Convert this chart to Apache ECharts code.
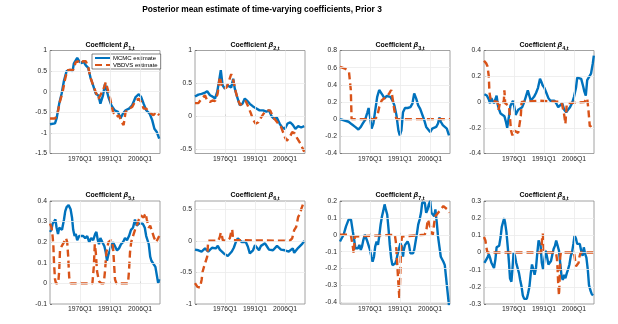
<!DOCTYPE html>
<html>
<head>
<meta charset="utf-8">
<script src="https://cdn.jsdelivr.net/npm/echarts@6/dist/echarts.min.js"></script>
<style>
  html, body { margin: 0; padding: 0; background: #fff; }
  #chart { width: 618px; height: 324px; }
</style>
</head>
<body>
<div id="chart"></div>
<script>
// x ticks (years, labelled as first quarter)
const xTicks = [1976, 1991, 2006];

// beta 1
const b1Mcmc = [[1961.0,-0.79],[1963.5,-0.77],[1964.3,-0.65],[1965.6,-0.29],[1966.8,-0.05],[1968.0,0.27],[1969.3,0.5],[1971.0,0.53],[1972.3,0.5],[1972.9,0.68],[1974.6,0.82],[1975.6,0.74],[1976.8,0.69],[1977.6,0.74],[1978.9,0.64],[1980.1,0.58],[1981.2,0.35],[1982.6,0.15],[1983.9,-0.05],[1985.2,-0.09],[1986.2,-0.29],[1987.5,-0.09],[1988.5,0.19],[1989.5,0.15],[1990.2,-0.13],[1991.7,-0.33],[1993.3,-0.45],[1995.0,-0.49],[1996.2,-0.65],[1997.5,-0.53],[1998.8,-0.45],[2000.5,-0.41],[2002.1,-0.33],[2003.8,-0.13],[2005.4,-0.06],[2006.6,-0.13],[2007.8,-0.29],[2009.1,-0.45],[2010.8,-0.53],[2012.1,-0.69],[2013.2,-0.9],[2014.4,-0.98],[2015.6,-1.14]];
const b1Vb = [[1961.0,-0.65],[1963.5,-0.65],[1964.6,-0.57],[1965.9,-0.25],[1967.3,-0.01],[1968.4,0.27],[1969.6,0.52],[1971.3,0.53],[1972.6,0.53],[1973.9,0.72],[1975.1,0.74],[1976.3,0.68],[1977.6,0.74],[1978.9,0.74],[1980.1,0.6],[1981.2,0.35],[1982.6,0.15],[1983.9,-0.01],[1985.2,-0.17],[1986.2,-0.21],[1987.5,0.03],[1988.9,0.23],[1989.9,0.26],[1990.9,-0.13],[1992.5,-0.49],[1994.2,-0.61],[1995.5,-0.57],[1996.7,-0.73],[1997.8,-0.81],[1998.8,-0.49],[2000.5,-0.41],[2002.1,-0.37],[2003.8,-0.21],[2005.4,-0.17],[2006.6,-0.25],[2007.8,-0.41],[2009.1,-0.41],[2010.4,-0.49],[2011.6,-0.53],[2012.7,-0.57],[2014.1,-0.49],[2015.6,-0.57]];
const b1Ticks = [-1.5, -1, -0.5, 0, 0.5, 1];

// beta 2
const b2Mcmc = [[1961.0,0.3],[1962.7,0.33],[1964.3,0.34],[1966.0,0.36],[1967.1,0.38],[1968.5,0.32],[1969.8,0.3],[1971.0,0.27],[1972.1,0.37],[1973.1,0.55],[1973.9,0.7],[1974.8,0.47],[1975.9,0.42],[1977.1,0.47],[1978.1,0.49],[1979.1,0.44],[1980.1,0.57],[1980.9,0.42],[1982.1,0.29],[1983.4,0.17],[1984.7,0.19],[1985.9,0.27],[1987.0,0.24],[1988.4,0.19],[1990.0,0.15],[1991.7,0.12],[1993.3,0.09],[1995.0,0.09],[1996.7,0.07],[1998.0,0.09],[1999.3,0.0],[2000.6,-0.04],[2001.9,-0.02],[2003.3,-0.11],[2004.6,-0.17],[2005.9,-0.19],[2007.3,-0.11],[2008.6,-0.09],[2009.9,-0.13],[2011.2,-0.19],[2012.6,-0.15],[2014.1,-0.17],[2015.6,-0.15]];
const b2Vb = [[1961.0,0.2],[1962.7,0.2],[1964.3,0.27],[1966.0,0.32],[1967.1,0.24],[1968.5,0.22],[1969.8,0.24],[1971.0,0.23],[1972.3,0.34],[1973.4,0.6],[1974.3,0.47],[1975.4,0.42],[1976.8,0.44],[1978.1,0.55],[1979.1,0.64],[1980.1,0.55],[1981.4,0.37],[1982.6,0.24],[1983.7,0.17],[1985.0,0.22],[1986.4,0.23],[1987.7,0.14],[1989.0,0.04],[1990.0,-0.05],[1991.3,-0.11],[1992.7,-0.09],[1994.0,-0.02],[1995.3,0.04],[1996.7,0.09],[1997.7,0.1],[1998.6,0.09],[2000.0,-0.01],[2001.3,-0.06],[2002.6,-0.11],[2004.0,-0.16],[2005.0,-0.24],[2006.0,-0.32],[2006.9,-0.37],[2008.3,-0.32],[2009.6,-0.24],[2010.9,-0.26],[2012.2,-0.34],[2013.6,-0.41],[2015.6,-0.54]];
const b2Ticks = [-0.5, 0, 0.5, 1];

// beta 3
const b3Mcmc = [[1961.0,0.0],[1965.3,-0.03],[1966.9,-0.06],[1968.6,-0.09],[1970.2,-0.12],[1971.4,-0.09],[1972.4,-0.05],[1973.5,-0.01],[1974.7,0.08],[1975.3,0.13],[1976.0,0.03],[1976.8,-0.11],[1977.7,-0.05],[1978.6,0.1],[1979.6,0.26],[1980.6,0.34],[1981.3,0.34],[1982.3,0.28],[1983.3,0.24],[1984.3,0.27],[1985.3,0.28],[1986.2,0.26],[1987.2,0.22],[1988.2,0.16],[1989.2,0.05],[1990.2,-0.13],[1990.9,-0.19],[1991.7,-0.13],[1992.5,0.08],[1993.5,0.13],[1994.8,0.13],[1996.2,0.14],[1997.2,0.18],[1998.1,0.3],[1999.1,0.24],[2000.1,0.16],[2001.1,0.12],[2002.1,0.1],[2003.1,-0.01],[2004.1,-0.09],[2005.1,-0.11],[2006.1,-0.15],[2007.1,-0.11],[2008.1,-0.09],[2009.1,-0.09],[2010.0,-0.05],[2010.7,0.02],[2011.4,-0.03],[2012.4,-0.07],[2013.4,-0.07],[2014.4,-0.11],[2015.5,-0.19]];
const b3Vb = [[1961.0,0.61],[1963.5,0.59],[1965.5,0.55],[1966.4,0.34],[1966.8,0.0],[1978.5,0.0],[1979.6,0.03],[1980.6,0.14],[1981.9,0.22],[1983.0,0.24],[1984.3,0.26],[1985.6,0.3],[1986.6,0.34],[1987.2,0.26],[1988.2,0.1],[1989.2,0.0],[2016.0,0.0]];
const b3Ticks = [-0.4, -0.2, 0, 0.2, 0.4, 0.6, 0.8];

// beta 4
const b4Mcmc = [[1961.2,0.06],[1962.4,0.05],[1963.4,0.02],[1964.0,-0.01],[1964.7,0.03],[1965.3,0.01],[1966.0,-0.01],[1966.7,0.0],[1967.3,0.05],[1968.0,-0.03],[1968.6,-0.06],[1969.3,-0.09],[1970.3,-0.09],[1971.2,-0.11],[1971.9,-0.15],[1972.6,-0.2],[1973.0,-0.21],[1973.5,-0.11],[1974.2,-0.03],[1974.9,-0.02],[1975.5,0.01],[1976.2,-0.04],[1976.8,-0.1],[1977.5,-0.09],[1978.1,-0.06],[1979.1,-0.06],[1980.1,-0.04],[1981.1,0.0],[1982.1,0.05],[1982.9,0.09],[1983.7,0.08],[1984.4,0.01],[1985.0,0.01],[1986.0,0.04],[1987.0,0.07],[1988.0,0.11],[1989.0,0.18],[1989.6,0.16],[1990.3,0.13],[1991.2,0.11],[1992.2,0.07],[1993.2,0.03],[1994.2,0.01],[1995.2,0.01],[1996.2,0.01],[1997.1,-0.01],[1998.1,-0.04],[1999.1,-0.04],[2000.1,-0.01],[2001.1,-0.06],[2002.1,-0.08],[2003.0,-0.06],[2004.0,-0.04],[2005.0,-0.01],[2006.0,0.04],[2007.0,0.11],[2007.6,0.19],[2008.6,0.18],[2009.6,0.18],[2010.6,0.12],[2011.2,0.08],[2011.9,0.05],[2012.6,0.17],[2013.5,0.18],[2014.5,0.22],[2015.4,0.3],[2015.9,0.36]];
const b4Vb = [[1961.0,0.32],[1962.1,0.3],[1962.7,0.28],[1963.4,0.2],[1963.7,0.08],[1964.4,0.01],[1965.3,0.0],[1967.8,0.0],[1968.3,-0.06],[1969.0,0.0],[1970.9,0.0],[1971.2,0.09],[1971.6,-0.01],[1972.2,0.0],[1973.5,-0.03],[1974.5,-0.22],[1975.2,-0.26],[1975.8,-0.22],[1976.8,-0.23],[1978.1,-0.24],[1979.1,-0.24],[1979.4,-0.11],[1979.8,0.0],[1988.3,0.01],[1999.8,0.0],[2001.1,-0.1],[2001.7,-0.17],[2002.4,-0.01],[2003.0,0.0],[2011.2,0.0],[2012.6,0.03],[2013.2,-0.06],[2013.9,-0.19],[2014.5,-0.18],[2016.0,-0.17]];
const b4Ticks = [-0.4, -0.2, 0, 0.2, 0.4];

// beta 5
const b5Mcmc = [[1961.0,0.25],[1961.7,0.26],[1962.3,0.29],[1963.0,0.3],[1963.7,0.31],[1964.3,0.27],[1965.0,0.24],[1965.6,0.27],[1966.3,0.27],[1967.0,0.26],[1968.0,0.31],[1968.6,0.35],[1969.3,0.37],[1970.3,0.38],[1971.3,0.36],[1972.0,0.32],[1972.6,0.26],[1973.3,0.23],[1973.9,0.24],[1974.6,0.21],[1975.6,0.23],[1976.6,0.23],[1977.6,0.23],[1978.6,0.22],[1979.6,0.23],[1980.6,0.2],[1981.6,0.22],[1982.6,0.21],[1983.6,0.24],[1984.2,0.25],[1984.9,0.21],[1985.5,0.19],[1986.2,0.22],[1987.2,0.2],[1988.2,0.18],[1988.9,0.15],[1989.5,0.11],[1990.2,0.14],[1990.9,0.16],[1991.5,0.18],[1992.5,0.2],[1993.5,0.18],[1994.5,0.16],[1995.5,0.17],[1996.5,0.19],[1997.5,0.2],[1998.5,0.22],[1999.5,0.21],[2000.5,0.23],[2001.5,0.26],[2002.5,0.27],[2003.5,0.31],[2004.4,0.28],[2005.4,0.29],[2006.4,0.29],[2007.4,0.29],[2008.4,0.27],[2009.1,0.23],[2009.8,0.23],[2010.4,0.19],[2011.1,0.13],[2011.7,0.11],[2012.7,0.11],[2013.7,0.08],[2014.4,0.04],[2015.1,0.0],[2015.6,0.02]];
const b5Vb = [[1961.0,0.29],[1961.8,0.27],[1962.3,0.23],[1962.7,0.18],[1963.0,0.1],[1963.5,0.02],[1964.0,0.0],[1965.1,0.0],[1965.6,0.06],[1966.0,0.16],[1966.8,0.18],[1968.0,0.2],[1969.0,0.22],[1969.6,0.2],[1970.1,0.13],[1970.6,0.03],[1971.3,0.0],[1982.2,0.0],[1982.9,0.08],[1983.4,0.19],[1983.9,0.15],[1984.5,0.06],[1985.5,0.01],[1986.7,0.0],[1987.9,0.0],[1988.5,0.06],[1989.2,0.15],[1990.2,0.2],[1991.5,0.21],[1992.5,0.18],[1993.0,0.1],[1993.5,0.02],[1994.2,0.0],[2000.0,0.0],[2000.5,0.06],[2001.0,0.15],[2001.6,0.2],[2002.5,0.23],[2003.5,0.26],[2004.4,0.28],[2005.4,0.31],[2006.4,0.33],[2007.8,0.32],[2008.8,0.34],[2009.4,0.31],[2010.4,0.27],[2011.1,0.28],[2012.1,0.25],[2013.1,0.22],[2014.1,0.2],[2015.6,0.23]];
const b5Ticks = [-0.1, 0, 0.1, 0.2, 0.3, 0.4];

// beta 6
const b6Mcmc = [[1961.0,-0.14],[1961.8,-0.12],[1962.7,-0.15],[1963.5,-0.14],[1964.3,-0.17],[1965.1,-0.15],[1966.0,-0.12],[1966.8,-0.11],[1967.6,-0.17],[1968.5,-0.15],[1969.5,-0.11],[1970.5,-0.09],[1971.4,-0.12],[1972.4,-0.08],[1973.4,-0.14],[1974.4,-0.17],[1975.4,-0.2],[1976.4,-0.23],[1977.4,-0.24],[1978.4,-0.23],[1979.4,-0.17],[1980.4,-0.11],[1981.4,-0.02],[1982.4,0.04],[1983.4,0.02],[1984.4,-0.02],[1985.4,-0.03],[1986.4,-0.02],[1987.4,-0.09],[1988.4,-0.2],[1989.4,-0.23],[1990.0,-0.15],[1991.0,-0.07],[1992.0,-0.09],[1993.0,-0.15],[1994.0,-0.08],[1995.0,-0.05],[1996.0,-0.04],[1997.0,-0.09],[1998.0,-0.14],[1999.0,-0.11],[2000.0,-0.15],[2001.0,-0.12],[2002.0,-0.08],[2003.0,-0.11],[2004.0,-0.14],[2005.0,-0.12],[2005.9,-0.15],[2006.9,-0.14],[2007.9,-0.17],[2008.9,-0.19],[2009.9,-0.12],[2010.6,-0.19],[2011.6,-0.15],[2012.6,-0.11],[2013.6,-0.12],[2014.6,-0.05],[2015.6,0.0]];
const b6Vb = [[1961.0,-0.67],[1962.2,-0.73],[1963.5,-0.74],[1964.3,-0.62],[1964.8,-0.49],[1965.5,-0.41],[1966.5,-0.41],[1967.1,-0.25],[1967.6,0.0],[1972.6,0.0],[1973.4,0.06],[1973.9,0.13],[1974.4,0.09],[1974.9,0.01],[1976.8,0.0],[1978.4,0.04],[1979.1,0.14],[1979.6,0.18],[1980.1,0.01],[1980.9,0.0],[2008.3,0.0],[2009.6,0.04],[2010.6,0.17],[2011.6,0.22],[2012.6,0.38],[2013.6,0.43],[2014.2,0.51],[2015.6,0.63]];
const b6Ticks = [-1, -0.5, 0, 0.5];

// beta 7
const b7Mcmc = [[1961.0,-0.04],[1962.8,0.0],[1964.0,0.05],[1965.3,0.09],[1966.5,0.09],[1967.4,0.02],[1968.1,-0.03],[1968.7,-0.08],[1969.4,-0.09],[1970.0,-0.08],[1970.7,-0.06],[1971.4,-0.09],[1972.0,-0.07],[1972.7,-0.03],[1973.4,0.0],[1974.0,-0.01],[1974.7,-0.04],[1975.3,-0.05],[1976.0,-0.09],[1976.7,-0.13],[1977.3,-0.16],[1978.0,-0.13],[1978.6,-0.07],[1979.3,-0.04],[1980.0,-0.06],[1980.6,-0.01],[1981.3,0.06],[1982.0,0.11],[1982.6,0.14],[1983.3,0.18],[1983.9,0.15],[1984.6,0.12],[1985.3,0.03],[1985.9,-0.06],[1986.6,-0.14],[1987.2,-0.18],[1987.9,-0.19],[1988.6,-0.17],[1989.2,-0.15],[1989.9,-0.11],[1990.5,-0.1],[1991.2,-0.05],[1991.9,-0.07],[1992.5,-0.13],[1992.9,-0.09],[1993.5,-0.06],[1994.2,-0.07],[1994.8,-0.04],[1995.5,-0.06],[1996.2,-0.11],[1996.8,-0.12],[1997.5,-0.11],[1998.1,-0.09],[1998.8,-0.04],[1999.5,0.01],[2000.1,0.06],[2000.8,0.09],[2001.5,0.13],[2002.1,0.19],[2002.8,0.2],[2003.4,0.19],[2004.1,0.13],[2004.8,0.15],[2005.4,0.18],[2006.1,0.2],[2006.7,0.13],[2007.4,0.14],[2008.1,0.11],[2008.7,0.15],[2009.4,0.07],[2010.0,-0.01],[2010.7,-0.07],[2011.4,-0.13],[2012.0,-0.12],[2012.7,-0.16],[2013.4,-0.18],[2014.0,-0.25],[2014.7,-0.33],[2015.5,-0.42]];
const b7Vb = [[1961.0,0.0],[1966.4,0.0],[1966.9,-0.01],[1967.4,-0.07],[1967.9,-0.11],[1968.4,-0.01],[1969.4,0.0],[1988.4,0.0],[1988.9,-0.04],[1989.2,-0.09],[1989.7,-0.19],[1990.2,-0.29],[1990.7,-0.38],[1991.0,-0.29],[1991.4,-0.13],[1991.7,-0.04],[1992.0,-0.01],[1992.9,0.0],[2003.3,0.0],[2004.1,0.02],[2004.9,0.09],[2005.8,0.06],[2006.6,0.02],[2007.4,0.0],[2008.1,0.07],[2008.7,0.11],[2009.7,0.12],[2010.7,0.14],[2011.7,0.15],[2012.7,0.17],[2013.7,0.17],[2014.7,0.15],[2015.5,0.13]];
const b7Ticks = [-0.4, -0.3, -0.2, -0.1, 0, 0.1, 0.2];

// beta 8
const b8Mcmc = [[1961.2,-0.06],[1962.1,-0.05],[1962.7,-0.03],[1963.4,-0.01],[1964.0,-0.03],[1964.7,-0.06],[1965.3,-0.07],[1966.0,-0.09],[1966.7,-0.04],[1967.3,0.03],[1968.0,0.02],[1968.6,0.04],[1969.3,0.09],[1969.9,0.15],[1970.6,0.18],[1971.1,0.2],[1971.6,0.17],[1972.2,0.12],[1972.9,0.03],[1973.5,-0.06],[1974.0,-0.15],[1974.7,-0.17],[1975.2,-0.1],[1975.8,0.0],[1976.5,-0.02],[1977.1,-0.06],[1977.8,-0.09],[1978.5,-0.12],[1979.1,-0.16],[1979.8,-0.2],[1980.4,-0.25],[1981.1,-0.27],[1981.7,-0.28],[1982.4,-0.27],[1983.0,-0.24],[1983.7,-0.2],[1984.4,-0.12],[1985.0,-0.07],[1985.7,-0.1],[1986.3,-0.13],[1987.0,-0.09],[1987.6,-0.01],[1988.3,0.07],[1988.8,0.08],[1989.3,0.04],[1989.9,-0.06],[1990.6,-0.1],[1991.2,-0.04],[1991.9,0.01],[1992.6,-0.03],[1993.2,-0.07],[1993.9,-0.08],[1994.5,-0.05],[1995.2,-0.01],[1995.8,0.02],[1996.5,0.04],[1997.1,0.07],[1997.8,0.04],[1998.5,0.01],[1999.1,-0.06],[1999.8,-0.14],[2000.4,-0.16],[2001.1,-0.13],[2001.7,-0.15],[2002.4,-0.12],[2003.0,-0.1],[2003.7,-0.07],[2004.4,-0.02],[2005.0,0.0],[2005.7,0.05],[2006.3,0.1],[2007.0,0.08],[2007.6,0.05],[2008.3,0.04],[2008.9,0.05],[2009.6,0.01],[2010.3,-0.02],[2010.9,0.03],[2011.6,-0.01],[2012.2,-0.03],[2012.9,-0.1],[2013.5,-0.19],[2014.2,-0.22],[2014.8,-0.24],[2015.5,-0.25]];
const b8Vb = [[1961.0,0.09],[1961.7,0.07],[1962.2,0.03],[1962.7,0.0],[1989.6,0.0],[1990.1,0.09],[1990.4,0.11],[1990.8,0.03],[1991.2,0.0],[1997.0,0.0],[1997.5,-0.04],[1997.8,-0.1],[1998.1,-0.18],[1998.5,-0.25],[1998.8,-0.16],[1999.1,-0.03],[1999.4,0.0],[2006.0,0.0],[2006.5,-0.04],[2007.0,-0.08],[2007.6,-0.09],[2008.3,-0.06],[2008.6,-0.03],[2009.3,0.0],[2015.6,0.0]];
const b8Ticks = [-0.3, -0.2, -0.1, 0, 0.1, 0.2, 0.3];

const subs = ['1,t', '2,t', '3,t', '4,t', '5,t', '6,t', '7,t', '8,t'];
const mcmcData = [b1Mcmc, b2Mcmc, b3Mcmc, b4Mcmc, b5Mcmc, b6Mcmc, b7Mcmc, b8Mcmc];
const vbData = [b1Vb, b2Vb, b3Vb, b4Vb, b5Vb, b6Vb, b7Vb, b8Vb];
const yTicks = [b1Ticks, b2Ticks, b3Ticks, b4Ticks, b5Ticks, b6Ticks, b7Ticks, b8Ticks];
const yMin = [-1.5, -0.565, -0.4, -0.4, -0.1, -1, -0.41, -0.3];
const yMax = [1, 1, 0.8, 0.4, 0.4, 0.63, 0.2, 0.3];

const chart = echarts.init(document.getElementById('chart'));
const font = 'Liberation Sans, Arial, Helvetica, sans-serif';
const lefts = [50, 195, 340, 484];
const tops = [50.5, 201];
const titleTops = [34, 184];
const gridColor = '#ebebeb';

let grid = [], xAxis = [], yAxis = [], series = [];
let title = [{
    text: 'Posterior mean estimate of time-varying coefficients, Prior 3',
    left: 257, top: 1, textAlign: 'center',
    textStyle: {fontFamily: font, fontSize: 8.4, fontWeight: 'bold', color: '#000'}
}];

for (let i = 0; i < 8; i++) {
    let col = i % 4, row = Math.floor(i / 4);
    grid.push({left: lefts[col], top: tops[row], width: 110, height: 103,
        show: true, borderColor: '#8c8c8c', borderWidth: 0.8, backgroundColor: '#fff'});
    xAxis.push({
        gridIndex: i, type: 'value', min: 1961, max: 2016,
        axisLine: {show: false},
        axisTick: {show: true, inside: true, length: 2, customValues: xTicks, lineStyle: {color: '#777'}},
        axisLabel: {customValues: xTicks, formatter: v => v + 'Q1', margin: 2,
            fontFamily: font, fontSize: 6.8, color: '#262626'},
        splitLine: {show: false}
    });
    yAxis.push({
        gridIndex: i, type: 'value', min: yMin[i], max: yMax[i],
        axisLine: {show: false},
        axisTick: {show: true, inside: true, length: 2, customValues: yTicks[i], lineStyle: {color: '#777'}},
        axisLabel: {customValues: yTicks[i], formatter: v => String(v), margin: 3,
            fontFamily: font, fontSize: 6.8, color: '#262626'},
        splitLine: {show: false}
    });
    // grid lines at the tick positions, drawn beneath the data
    let gridLines = xTicks.map(v => ({xAxis: v}))
        .concat(yTicks[i].filter(v => v > yMin[i] && v < yMax[i]).map(v => ({yAxis: v})));
    series.push({
        type: 'line', xAxisIndex: i, yAxisIndex: i, data: [], z: 1, silent: true,
        markLine: {silent: true, symbol: 'none', label: {show: false}, animation: false,
            lineStyle: {color: gridColor, width: 0.8, type: 'solid'}, data: gridLines}
    });
    series.push({
        name: 'MCMC estimate', type: 'line', xAxisIndex: i, yAxisIndex: i,
        data: mcmcData[i], symbol: 'none', clip: true, z: 2,
        lineStyle: {color: '#0072BD', width: 2.4}, itemStyle: {color: '#0072BD'}
    });
    series.push({
        name: 'VBDVS estimate', type: 'line', xAxisIndex: i, yAxisIndex: i,
        data: vbData[i], symbol: 'none', clip: true, z: 3,
        lineStyle: {color: '#D95319', width: 2.4, type: [7, 4]}, itemStyle: {color: '#D95319'}
    });
    title.push({
        text: '{b|Coefficient }{g|β}{s|' + subs[i] + '}',
        left: lefts[col] + 55, top: titleTops[row], textAlign: 'center',
        textStyle: {
            rich: {
                b: {fontFamily: font, fontSize: 7, fontWeight: 'bold', color: '#000'},
                g: {fontFamily: font, fontSize: 7.5, fontStyle: 'italic', color: '#000'},
                s: {fontFamily: font, fontSize: 5.5, fontWeight: 'bold', color: '#000', padding: [6, 0, 0, 0]}
            }
        }
    });
}

chart.setOption({
    animation: false,
    backgroundColor: '#fff',
    title: title,
    legend: {
        data: ['MCMC estimate', 'VBDVS estimate'],
        orient: 'vertical', left: 92, top: 54,
        itemWidth: 15, itemHeight: 5, itemGap: 1,
        padding: [1, 3, 1, 2],
        itemStyle: {opacity: 0},
        borderColor: '#333', borderWidth: 0.6, backgroundColor: '#fff',
        textStyle: {fontFamily: font, fontSize: 6, color: '#000', padding: [0, 0, 0, -2]}
    },
    grid: grid,
    xAxis: xAxis,
    yAxis: yAxis,
    series: series
});
</script>
</body>
</html>
